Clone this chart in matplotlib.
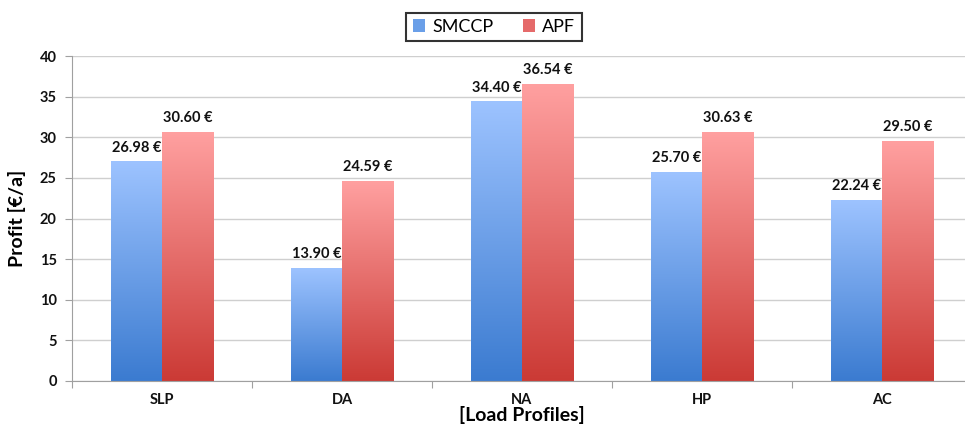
import numpy as np
import matplotlib
matplotlib.use("Agg")
import matplotlib.pyplot as plt
from matplotlib.colors import LinearSegmentedColormap
from matplotlib.patches import Patch

plt.rcParams['font.family'] = ['Lato', 'DejaVu Sans']

categories = ["SLP", "DA", "NA", "HP", "AC"]
smccp = [26.98, 13.90, 34.40, 25.70, 22.24]
apf = [30.60, 24.59, 36.54, 30.63, 29.50]
series_names = ["SMCCP", "APF"]

fig = plt.figure(figsize=(9.65, 4.28), dpi=100)
W, H = 965, 428
ax = fig.add_axes([72 / W, (H - 381) / H, 900 / W, 325 / H])

x = np.arange(len(categories))
bw = 0.286

blue_cmap = LinearSegmentedColormap.from_list("b", ["#3B7BD0", "#9DC3FF"])
red_cmap = LinearSegmentedColormap.from_list("r", ["#CB3A35", "#FFA0A0"])

b1 = ax.bar(x - bw / 2, smccp, bw, color="none", edgecolor="none")
b2 = ax.bar(x + bw / 2, apf, bw, color="none", edgecolor="none")

# vertical gradient fill for each bar
grad = np.linspace(0, 1, 256).reshape(-1, 1)
for bars, cmap in ((b1, blue_cmap), (b2, red_cmap)):
    for p in bars:
        x0, y0 = p.get_x(), p.get_y()
        w, h = p.get_width(), p.get_height()
        ax.imshow(grad, cmap=cmap, origin="lower", aspect="auto",
                  extent=(x0, x0 + w, y0, y0 + h), zorder=2, interpolation="bicubic")

for bars, vals in ((b1, smccp), (b2, apf)):
    for p, v in zip(bars, vals):
        ax.annotate(f"{v:.2f} €", (p.get_x() + p.get_width() / 2, v),
                    xytext=(0, 5), textcoords="offset points",
                    ha="center", va="bottom", fontsize=10.5, fontweight="bold",
                    color="#111111")

ax.set_xlim(-0.5, len(categories) - 0.5)
ax.set_ylim(0, 40)
ax.set_yticks(np.arange(0, 41, 5))
ax.yaxis.grid(True, color="#cfcfcf", linewidth=1)
ax.set_axisbelow(True)
ax.set_xticks(np.arange(-0.5, len(categories), 1), minor=False)
ax.set_xticklabels([])
ax.set_xticks(x, minor=True)
ax.set_xticklabels(categories, minor=True)
ax.tick_params(axis="x", which="minor", length=0, pad=9)
ax.tick_params(axis="x", which="major", length=5, color="#a0a0a0", direction="out")
ax.tick_params(axis="y", length=5, color="#a0a0a0", pad=6)
for lbl in ax.get_xticklabels(minor=True) + ax.get_yticklabels():
    lbl.set_fontweight("bold")
    lbl.set_fontsize(10.5)
    lbl.set_color("#111111")

for s in ("top", "right"):
    ax.spines[s].set_visible(False)
for s in ("left", "bottom"):
    ax.spines[s].set_color("#a0a0a0")

ax.set_ylabel("Profit [€/a]", fontsize=14, fontweight="bold", labelpad=10)
ax.set_xlabel("[Load Profiles]", fontsize=14, fontweight="bold", labelpad=-1)

handles = [Patch(facecolor="#6A9FE8", edgecolor="none"),
           Patch(facecolor="#E56A6A", edgecolor="none")]
leg = fig.legend(handles, series_names, loc="center", bbox_to_anchor=(494 / W, 1 - 27 / H),
                 ncol=2, fontsize=13, frameon=True, fancybox=False,
                 handlelength=0.7, handleheight=0.7, handletextpad=0.4,
                 columnspacing=1.6, borderpad=0.35)
leg.get_frame().set_edgecolor("black")
leg.get_frame().set_linewidth(1.5)

fig.savefig("out.png", dpi=100)
